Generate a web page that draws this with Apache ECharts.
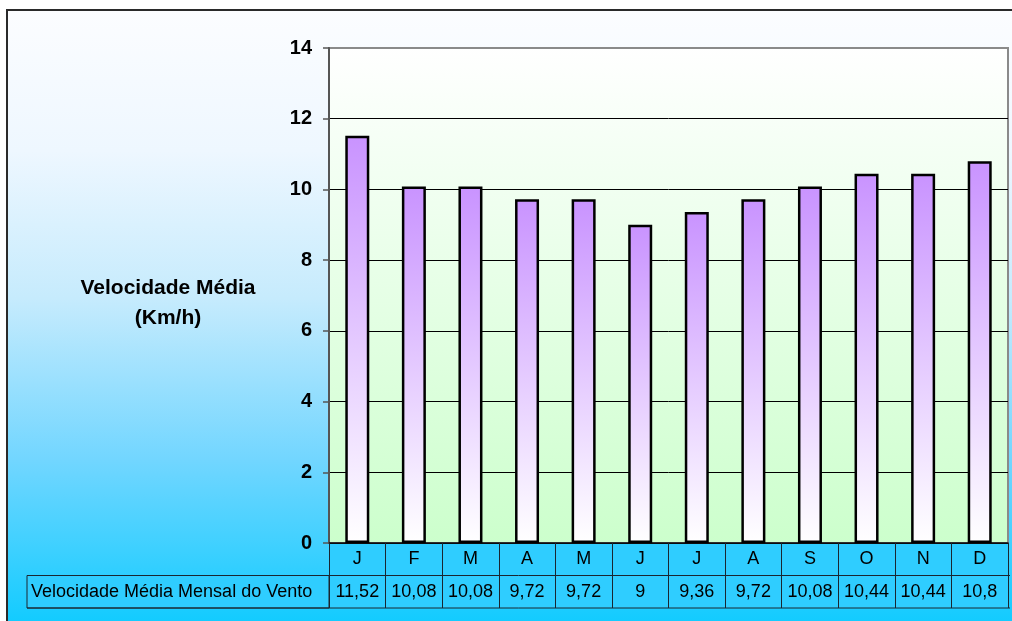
<!DOCTYPE html>
<html>
<head>
<meta charset="utf-8">
<script src="https://cdn.jsdelivr.net/npm/echarts@6/dist/echarts.min.js"></script>
<style>
  html, body { margin: 0; padding: 0; background: #ffffff; }
  #chart { width: 1012px; height: 621px; }
</style>
</head>
<body>
<div id="chart"></div>
<script>
// Monthly mean wind speed (km/h)
const months = ['J', 'F', 'M', 'A', 'M', 'J', 'J', 'A', 'S', 'O', 'N', 'D'];
const speeds = [11.52, 10.08, 10.08, 9.72, 9.72, 9, 9.36, 9.72, 10.08, 10.44, 10.44, 10.8];
const seriesName = 'Velocidade Média Mensal do Vento';
const axisTitle = 'Velocidade Média\n(Km/h)';
const yMin = 0, yMax = 14, yStep = 2;

// Plot rectangle (pixels)
const G = { left: 329, right: 4, top: 48, bottom: 78 };
const W = 1012, H = 621;
const rowH = 32.5;

const fmt = v => String(v).replace('.', ',');

const chart = echarts.init(document.getElementById('chart'), null, { renderer: 'canvas' });

const plotBottom = H - G.bottom;
const plotRight = W - G.right;

const option = {
  animation: false,
  textStyle: { fontFamily: 'Liberation Sans, Arial, sans-serif' },
  grid: {
    left: G.left, right: G.right, top: G.top, bottom: G.bottom,
    show: true,
    borderColor: '#8a8a8a',
    borderWidth: 2,
    backgroundColor: new echarts.graphic.LinearGradient(0, 0, 0, 1, [
      { offset: 0, color: '#ffffff' },
      { offset: 1, color: '#ccffcc' }
    ])
  },
  xAxis: {
    type: 'category',
    data: months,
    boundaryGap: true,
    axisLine: { show: true, lineStyle: { color: '#111', width: 1.5 } },
    axisTick: { show: true, inside: false, length: rowH * 2, lineStyle: { color: '#1a2630', width: 1 } },
    axisLabel: {
      interval: 0,
      margin: 0,
      formatter: (val, idx) => '{c|' + val + '}\n{v|' + fmt(speeds[idx]) + '}',
      rich: {
        c: { fontSize: 18, lineHeight: rowH, color: '#000', fontFamily: 'Liberation Sans' },
        v: { fontSize: 18, lineHeight: rowH, color: '#000', fontFamily: 'Liberation Sans' }
      }
    },
    splitLine: { show: false }
  },
  yAxis: {
    type: 'value',
    min: yMin, max: yMax, interval: yStep,
    axisLine: { show: true, lineStyle: { color: '#555', width: 2 } },
    axisTick: { show: true, inside: false, length: 6, lineStyle: { color: '#555', width: 1.5 } },
    axisLabel: {
      margin: 17,
      fontSize: 20,
      fontWeight: 'bold',
      color: '#000',
      fontFamily: 'Liberation Sans'
    },
    splitLine: {
      show: true,
      lineStyle: { color: ['#000', '#000', '#000', '#000', '#000', '#000', '#000', '#8a8a8a'], width: 1 }
    }
  },
  series: [{
    name: seriesName,
    type: 'bar',
    data: speeds,
    barWidth: 24,
    itemStyle: {
      color: new echarts.graphic.LinearGradient(0, 0, 0, 1, [
        { offset: 0, color: '#c993ff' },
        { offset: 1, color: '#ffffff' }
      ]),
      borderColor: '#000',
      borderWidth: 2.5
    }
  }],
  graphic: [
    // Chart area background and outer frame
    {
      type: 'rect', z: -100, silent: true,
      shape: { x: 7, y: 10, width: W + 20, height: H + 20 },
      style: {
        fill: new echarts.graphic.LinearGradient(0, 0, 0, 1, [
          { offset: 0, color: '#fcfdff' },
          { offset: 0.22, color: '#eef7ff' },
          { offset: 0.45, color: '#c6ebfd' },
          { offset: 0.7, color: '#72d6ff' },
          { offset: 0.96, color: '#10cbff' },
          { offset: 1, color: '#0ccaff' }
        ]),
        stroke: '#2a2a2a', lineWidth: 2
      }
    },
    // Data table body
    {
      type: 'rect', z: -1, silent: true,
      shape: { x: G.left, y: plotBottom, width: plotRight - G.left, height: rowH * 2 },
      style: { fill: '#2fcdff' }
    },
    // Series label cell
    {
      type: 'rect', z: 1, silent: true,
      shape: { x: 27, y: plotBottom + rowH, width: G.left - 27, height: rowH },
      style: { fill: '#2fcdff', stroke: '#1a2630', lineWidth: 1 }
    },
    {
      type: 'text', z: 2, silent: true,
      style: {
        x: 31, y: plotBottom + rowH * 1.5,
        text: seriesName,
        font: '18px "Liberation Sans", Arial, sans-serif',
        fill: '#000', align: 'left', verticalAlign: 'middle'
      }
    },
    // Row separators
    {
      type: 'line', z: 2, silent: true,
      shape: { x1: 27, y1: plotBottom + rowH, x2: plotRight + 2, y2: plotBottom + rowH },
      style: { stroke: '#1a2630', lineWidth: 1 }
    },
    {
      type: 'line', z: 2, silent: true,
      shape: { x1: 27, y1: plotBottom + rowH * 2, x2: plotRight + 2, y2: plotBottom + rowH * 2 },
      style: { stroke: '#1a2630', lineWidth: 1 }
    },
    // Value axis title
    {
      type: 'text', z: 2, silent: true,
      style: {
        x: 168, y: 303,
        text: axisTitle,
        font: 'bold 21px "Liberation Sans", Arial, sans-serif',
        lineHeight: 30,
        fill: '#000', align: 'center', verticalAlign: 'middle'
      }
    }
  ]
};

chart.setOption(option);
</script>
</body>
</html>
